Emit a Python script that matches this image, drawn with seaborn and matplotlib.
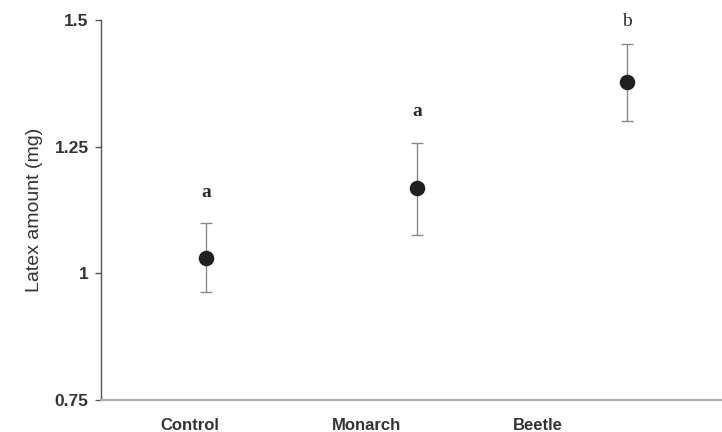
import numpy as np
import pandas as pd
import matplotlib
matplotlib.use("Agg")
import matplotlib.pyplot as plt
import seaborn as sns

# data
groups = ["Control", "Monarch", "Beetle"]
latex_mean = [1.030, 1.168, 1.377]
latex_low = [0.963, 1.076, 1.300]
latex_high = [1.099, 1.258, 1.452]
sig_letters = ["a", "a", "b"]
letter_y = [1.160, 1.320, 1.498]

# where the points sit along the x axis (category slots are 0-1, 1-2, 2-3)
point_x = [0.593, 1.785, 2.97]
label_x = [0.5, 1.5, 2.47]

df = pd.DataFrame({"group": groups, "x": point_x, "mean": latex_mean,
                   "low": latex_low, "high": latex_high})

sns.set_style("white")
plt.rcParams["font.family"] = ["Liberation Sans", "DejaVu Sans"]

fig = plt.figure(figsize=(7.22, 4.32), dpi=100)
ax = fig.add_axes([0.1399, 0.0741, 0.8601, 0.8796])

# error bars first, points on top
ax.errorbar(df["x"], df["mean"],
            yerr=[df["mean"] - df["low"], df["high"] - df["mean"]],
            fmt="none", ecolor="#8a8a8a", elinewidth=1.0, capsize=4.5,
            capthick=1.0, zorder=2)
sns.scatterplot(data=df, x="x", y="mean", s=125, color="#231f20",
                edgecolor="#231f20", linewidth=0, zorder=3, ax=ax)

for xi, yi, lt in zip(point_x, letter_y, sig_letters):
    ax.text(xi, yi, lt, ha="center", va="center", fontsize=14,
            family="Liberation Serif",
            fontweight="bold" if lt == "a" else "normal", color="#2a2a2a")

ax.set_xlim(0, 3.508)
ax.set_ylim(0.75, 1.5)
ax.set_yticks([0.75, 1.0, 1.25, 1.5])
ax.set_yticklabels(["0.75", "1", "1.25", "1.5"], fontsize=12.5,
                   fontweight="bold", color="#333333")
ax.set_xticks(label_x)
ax.set_xticklabels(groups, fontsize=12, fontweight="bold", color="#333333")
ax.tick_params(axis="x", length=0, pad=13)
ax.set_xticks([1, 2], minor=True)
ax.tick_params(axis="x", which="minor", length=3, color="#999999", width=1)
ax.tick_params(axis="y", length=4, color="#555555", width=1, pad=5,
               left=True)

ax.set_xlabel("")
ax.set_ylabel("Latex amount (mg)", fontsize=14, color="#333333",
              labelpad=8)

for s in ["top", "right"]:
    ax.spines[s].set_visible(False)
ax.spines["left"].set_color("#555555")
ax.spines["left"].set_linewidth(1)
ax.spines["bottom"].set_color("#aaaaaa")
ax.spines["bottom"].set_linewidth(1.5)

fig.savefig("out.png", dpi=100)
